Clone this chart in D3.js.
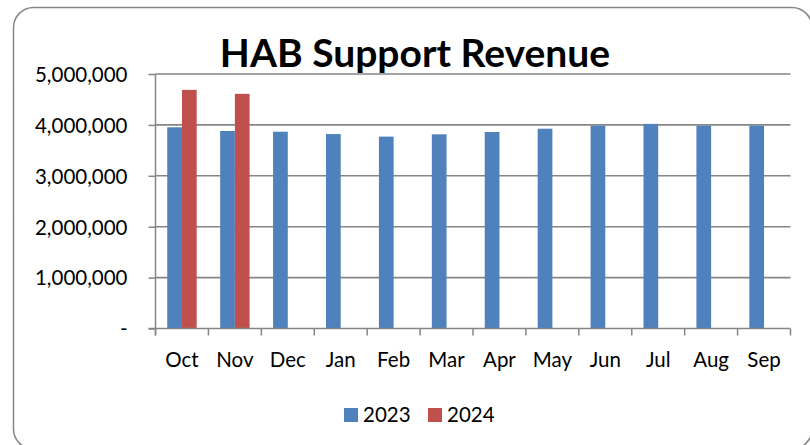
<!DOCTYPE html>
<html>
<head>
<meta charset="utf-8">
<title>HAB Support Revenue</title>
<style>
body { margin: 0; background: #fff; }
text { font-family: Lato, "Open Sans", sans-serif; fill: #000; }
.axis .domain { stroke: #868686; stroke-width: 1.5px; }
.axis .tick line { stroke: #868686; stroke-width: 1.5px; }
.grid line { stroke: #868686; stroke-width: 1.6px; }
</style>
</head>
<body>
<script src="https://d3js.org/d3.v7.min.js"></script>
<script>

// Data
var months = ["Oct", "Nov", "Dec", "Jan", "Feb", "Mar", "Apr", "May", "Jun", "Jul", "Aug", "Sep"];
var series = ["2023", "2024"];
var values2023 = [3953000, 3880000, 3866000, 3820000, 3770000, 3815000, 3860000, 3925000, 3984000, 4020000, 3984000, 3984000];
var values2024 = [4688000, 4610000];
var yTicks = [0, 1000000, 2000000, 3000000, 4000000, 5000000];
var colours = {"2023": "#4F81BD", "2024": "#C0504D"};

var W = 810, H = 445;
var plot = {left: 155.5, right: 790.5, top: 74, bottom: 328.5};

var svg = d3.select("body").append("svg")
    .attr("width", W)
    .attr("height", H);

// outer frame (runs off the right and bottom edges)
svg.append("rect")
    .attr("x", 13.5).attr("y", 7.5)
    .attr("width", 798.5).attr("height", 441.5)
    .attr("rx", 20).attr("ry", 20)
    .attr("fill", "#fff")
    .attr("stroke", "#868686")
    .attr("stroke-width", 1.5);

var x = d3.scaleBand()
    .domain(months)
    .range([plot.left, plot.right])
    .paddingInner(0.444)
    .paddingOuter(0.222);

var xs = d3.scaleBand()
    .domain(series)
    .range([0, x.bandwidth()]);

var y = d3.scaleLinear()
    .domain([0, 5000000])
    .range([plot.bottom, plot.top]);

// gridlines
svg.append("g").attr("class", "grid")
    .selectAll("line")
    .data(yTicks.filter(function(d) { return d > 0; }))
    .enter().append("line")
    .attr("x1", plot.left).attr("x2", plot.right)
    .attr("y1", function(d) { return y(d); })
    .attr("y2", function(d) { return y(d); });

// bars
var rows = months.map(function(m, i) {
    return {month: m, "2023": values2023[i], "2024": values2024[i]};
});

svg.append("g").selectAll("g")
    .data(rows)
    .enter().append("g")
    .attr("transform", function(d) { return "translate(" + x(d.month) + ",0)"; })
    .selectAll("rect")
    .data(function(d) {
        return series.filter(function(s) { return d[s] !== undefined; })
            .map(function(s) { return {key: s, value: d[s]}; });
    })
    .enter().append("rect")
    .attr("x", function(d) { return xs(d.key); })
    .attr("width", xs.bandwidth())
    .attr("y", function(d) { return y(d.value); })
    .attr("height", function(d) { return y(0) - y(d.value); })
    .attr("fill", function(d) { return colours[d.key]; });

// y axis
var yAxis = svg.append("g")
    .attr("class", "axis")
    .attr("transform", "translate(" + plot.left + ",0)")
    .call(d3.axisLeft(y).tickValues(yTicks).tickSize(7).tickSizeOuter(0).tickPadding(21)
        .tickFormat(function(d) { return d === 0 ? "-   " : d3.format(",")(d); }));
yAxis.select(".domain").attr("d", "M0," + plot.top + "V" + (plot.bottom + 7));
yAxis.selectAll("text").style("font-size", "20.5px").attr("dy", "0.36em");

// x axis: labels at band centres, ticks at band edges
var step = x.step();
var edges = months.map(function(m) { return x(m) - step * 0.222; }).concat([plot.right]);

var xAxis = svg.append("g")
    .attr("class", "axis")
    .attr("transform", "translate(0," + plot.bottom + ")");
xAxis.append("line")
    .attr("x1", plot.left - 7).attr("x2", plot.right)
    .attr("stroke", "#868686").attr("stroke-width", 1.5);
xAxis.selectAll(".edge")
    .data(edges)
    .enter().append("line")
    .attr("class", "edge")
    .attr("x1", function(d) { return d; }).attr("x2", function(d) { return d; })
    .attr("y1", 0).attr("y2", 7)
    .attr("stroke", "#868686").attr("stroke-width", 1.5);
xAxis.selectAll(".lbl")
    .data(months)
    .enter().append("text")
    .attr("class", "lbl")
    .attr("x", function(d) { return x(d) + x.bandwidth() / 2; })
    .attr("y", 38)
    .attr("text-anchor", "middle")
    .style("font-size", "20.5px")
    .text(function(d) { return d; });

// title
svg.append("text")
    .attr("x", 415)
    .attr("y", 67)
    .attr("text-anchor", "middle")
    .style("font-size", "39px")
    .style("font-weight", "bold")
    .text("HAB Support Revenue");

// legend
var legend = svg.append("g").selectAll("g")
    .data(series)
    .enter().append("g")
    .attr("transform", function(d, i) { return "translate(" + (344 + i * 84) + ",408)"; });
legend.append("rect")
    .attr("width", 14).attr("height", 14)
    .attr("fill", function(d) { return colours[d]; });
legend.append("text")
    .attr("x", 19).attr("y", 13.5)
    .style("font-size", "20.5px")
    .text(function(d) { return d; });

</script>
</body>
</html>
